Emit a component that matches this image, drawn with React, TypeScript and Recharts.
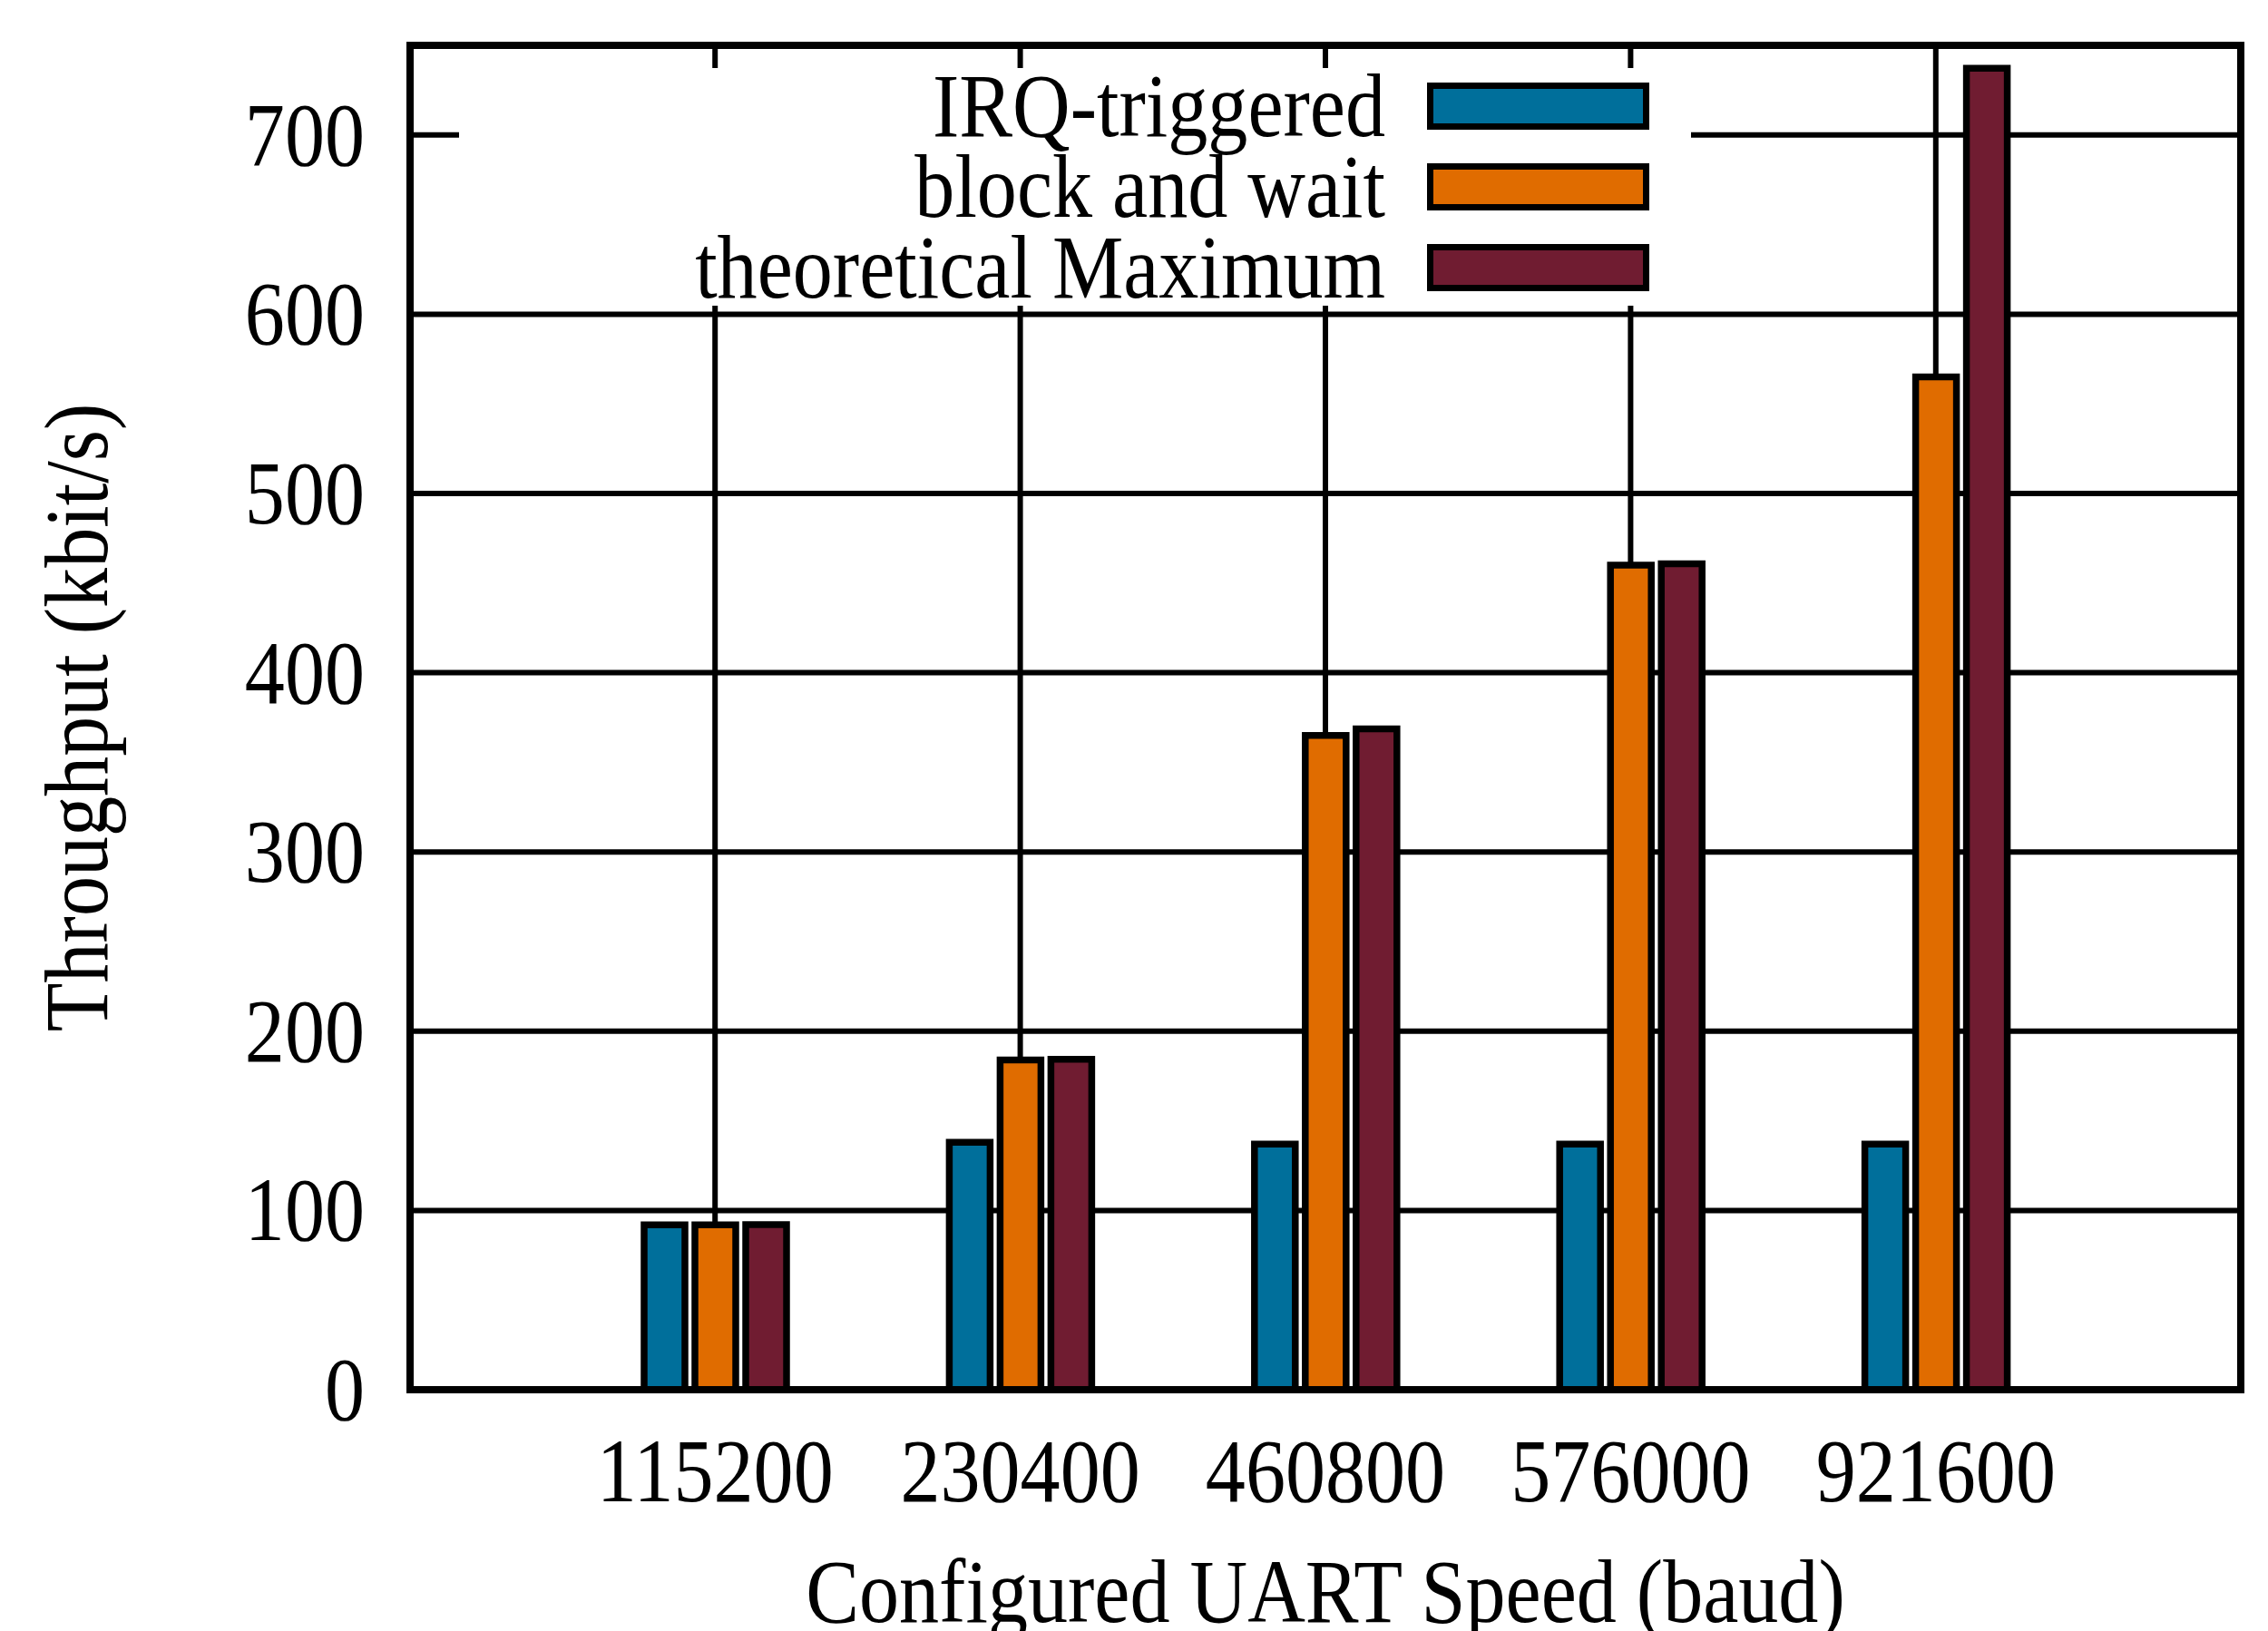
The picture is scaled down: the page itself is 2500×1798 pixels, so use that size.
import React from 'react';
import { BarChart, Bar, XAxis, YAxis, CartesianGrid, Legend, Label } from 'recharts';

const speeds = ['115200', '230400', '460800', '576000', '921600'];
const irqTriggered = [92, 138, 137, 137, 137];
const blockAndWait = [92, 184, 365, 460, 565];
const theoreticalMax = [92.16, 184.32, 368.64, 460.8, 737.28];
const yTicks = [0, 100, 200, 300, 400, 500, 600, 700];

const seriesNames = ['IRQ-triggered', 'block and wait', 'theoretical Maximum'];
const seriesColors = ['#006f9b', '#e06c00', '#701c31'];
const seriesKeys = ['irq', 'block', 'max'];

const data = speeds.map((speed, i) => ({
  speed,
  irq: irqTriggered[i],
  block: blockAndWait[i],
  max: theoreticalMax[i],
}));

const FONT = '"Liberation Serif", "DejaVu Serif", serif';
const FS = 99;
const SQUEEZE = 0.89;

const YTick = ({ x, y, payload }: any) => (
  <text
    transform={`translate(${x}, ${y + 33}) scale(${SQUEEZE}, 1)`}
    textAnchor="end"
    fontFamily={FONT}
    fontSize={FS}
    fill="#000"
  >
    {payload.value}
  </text>
);

const XTick = ({ x, y, payload }: any) => (
  <text
    transform={`translate(${x}, ${y + 123}) scale(${SQUEEZE}, 1)`}
    textAnchor="middle"
    fontFamily={FONT}
    fontSize={FS}
    fill="#000"
  >
    {payload.value}
  </text>
);

const YTitle = ({ viewBox }: any) => {
  const cx = viewBox.x + 118;
  const cy = viewBox.y + viewBox.height / 2;
  return (
    <text
      transform={`translate(${cx}, ${cy}) rotate(-90) scale(${SQUEEZE}, 1)`}
      textAnchor="middle"
      fontFamily={FONT}
      fontSize={FS}
      fill="#000"
    >
      Throughput (kbit/s)
    </text>
  );
};

const XTitle = ({ viewBox }: any) => {
  const cx = viewBox.x + viewBox.width / 2;
  const cy = viewBox.y + 256;
  return (
    <text
      transform={`translate(${cx}, ${cy}) scale(${SQUEEZE}, 1)`}
      textAnchor="middle"
      fontFamily={FONT}
      fontSize={FS}
      fill="#000"
    >
      Configured UART Speed (baud)
    </text>
  );
};

// gnuplot-style key: text right-aligned, swatch to the right, opaque box
const KeyBox = () => (
  <svg width={1358} height={262} style={{ display: 'block' }}>
    {seriesNames.map((name, i) => (
      <g key={name}>
        <text
          transform={`translate(1021, ${75 + i * 89}) scale(${SQUEEZE}, 1)`}
          textAnchor="end"
          fontFamily={FONT}
          fontSize={FS}
          fill="#000"
        >
          {name}
        </text>
        <rect
          x={1070.5}
          y={19.5 + i * 89}
          width={238}
          height={45}
          fill={seriesColors[i]}
          stroke="#000"
          strokeWidth={7}
        />
      </g>
    ))}
  </svg>
);

const App: React.FC = () => {
  const borderLine = { stroke: '#000', strokeWidth: 8, strokeLinecap: 'square' as const };
  return (
    <div style={{ position: 'absolute', left: 0, top: 0, width: 2500, height: 1798, background: '#fff' }}>
      <BarChart
        width={2500}
        height={1798}
        data={data}
        margin={{ top: 49, right: 29, bottom: 0, left: 0 }}
        barSize={45}
        barGap={11}
      >
        <CartesianGrid stroke="#000" strokeWidth={6} />
        <XAxis
          dataKey="speed"
          height={266}
          padding={{ left: 168, right: 168 }}
          axisLine={borderLine}
          tickLine={false}
          tickSize={0}
          tickMargin={0}
          tick={<XTick />}
          interval={0}
        >
          <Label content={<XTitle />} />
        </XAxis>
        <XAxis
          xAxisId="top"
          orientation="top"
          dataKey="speed"
          height={1}
          padding={{ left: 168, right: 168 }}
          axisLine={borderLine}
          tickLine={false}
          tick={false}
        />
        <YAxis
          width={452}
          domain={[0, 750]}
          ticks={yTicks}
          allowDataOverflow
          axisLine={borderLine}
          tickLine={false}
          tickSize={0}
          tickMargin={50}
          tick={<YTick />}
          interval={0}
        >
          <Label content={<YTitle />} />
        </YAxis>
        <YAxis
          yAxisId="right"
          orientation="right"
          width={1}
          domain={[0, 750]}
          axisLine={borderLine}
          tickLine={false}
          tick={false}
        />
        <Legend
          layout="horizontal"
          verticalAlign="middle"
          align="center"
          content={<KeyBox />}
          wrapperStyle={{ left: 506, top: 75, width: 1358, height: 262, background: '#fff' }}
        />
        {seriesKeys.map((k, i) => (
          <Bar
            key={k}
            dataKey={k}
            name={seriesNames[i]}
            fill={seriesColors[i]}
            stroke="#000"
            strokeWidth={7.5}
            isAnimationActive={false}
          />
        ))}
      </BarChart>
    </div>
  );
};

export default App;
